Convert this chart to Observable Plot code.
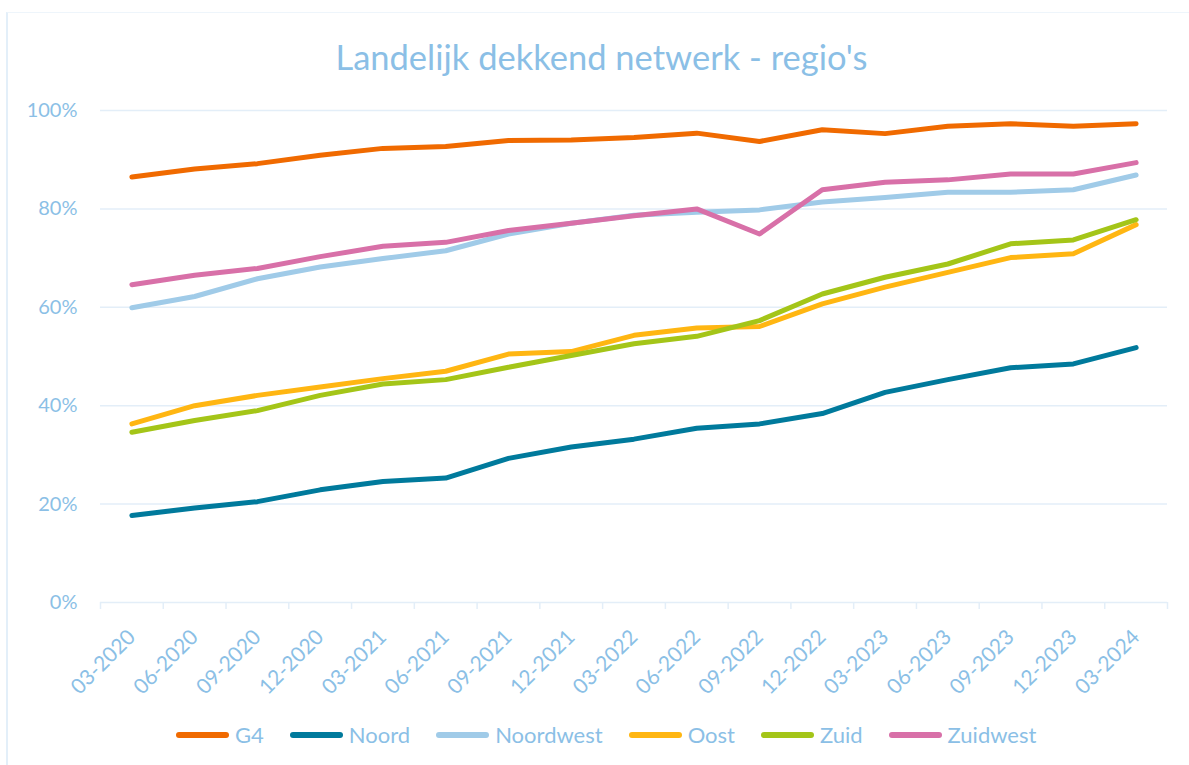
<!DOCTYPE html>
<html>
<head>
<meta charset="utf-8">
<script src="https://cdn.jsdelivr.net/npm/d3@7"></script>
<script src="https://cdn.jsdelivr.net/npm/@observablehq/plot@0.6"></script>
<style>
  html, body { margin: 0; padding: 0; background: #fff; }
  body { width: 1189px; height: 765px; position: relative; overflow: hidden; font-family: Lato, "Open Sans", sans-serif; }
  #frame { position: absolute; left: 6px; top: 12px; width: 1300px; height: 900px; border-left: 2px solid #e3eff9; border-top: 1px solid #eef5fb; }
  #title { position: absolute; left: 7px; width: 1189px; top: 37px; text-align: center; font-size: 34.5px; line-height: 40px; color: #8bbfe6; }
  #chart { position: absolute; left: 0; top: 90px; }
  #legend { position: absolute; top: 721px; left: 176px; display: flex; align-items: center; font-size: 22px; color: #8bbfe6; line-height: 28px; }
  .item { display: flex; align-items: center; margin-right: 26px; }
  .sw { width: 53px; height: 6px; border-radius: 3px; margin-right: 6px; }
</style>
</head>
<body>
<div id="frame"></div>
<div id="title">Landelijk dekkend netwerk - regio's</div>
<div id="chart"></div>
<div id="legend"></div>
<script>
const dates = ["03-2020","06-2020","09-2020","12-2020","03-2021","06-2021","09-2021","12-2021","03-2022","06-2022","09-2022","12-2022","03-2023","06-2023","09-2023","12-2023","03-2024"];
const seriesNames = ["G4","Noord","Noordwest","Oost","Zuid","Zuidwest"];
const seriesColors = ["#f06a00","#007a9c","#a0cbe8","#ffb612","#a4c518","#d870a8"];
const g4 =        [86.5, 88.1, 89.2, 90.9, 92.3, 92.7, 93.9, 94.0, 94.5, 95.4, 93.7, 96.1, 95.3, 96.8, 97.3, 96.8, 97.3];
const noord =     [17.7, 19.2, 20.5, 22.9, 24.6, 25.3, 29.3, 31.6, 33.2, 35.4, 36.3, 38.4, 42.7, 45.3, 47.7, 48.5, 51.8];
const noordwest = [59.9, 62.2, 65.8, 68.2, 69.9, 71.5, 74.9, 77.1, 78.7, 79.3, 79.8, 81.4, 82.3, 83.4, 83.4, 83.9, 86.9];
const oost =      [36.3, 40.0, 42.1, 43.8, 45.5, 47.0, 50.5, 51.0, 54.3, 55.8, 56.1, 60.7, 64.1, 67.1, 70.1, 70.9, 76.8];
const zuid =      [34.6, 37.0, 39.0, 42.1, 44.4, 45.3, 47.8, 50.2, 52.6, 54.1, 57.3, 62.7, 66.1, 68.8, 72.9, 73.7, 77.8];
const zuidwest =  [64.6, 66.5, 67.9, 70.3, 72.4, 73.2, 75.6, 77.1, 78.6, 80.0, 74.9, 83.9, 85.4, 85.9, 87.1, 87.1, 89.4];
const yTicks = [0, 20, 40, 60, 80, 100];

const allValues = [g4, noord, noordwest, oost, zuid, zuidwest];
const rows = [];
seriesNames.forEach((name, s) => {
  allValues[s].forEach((v, i) => rows.push({series: name, i, value: v}));
});
const idx = d3.range(dates.length);
const boundaries = d3.range(dates.length + 1).map(k => k - 0.5);

const textColor = "#8bbfe6";
const gridColor = "#e3eef8";

const chart = Plot.plot({
  width: 1189,
  height: 612,
  marginTop: 20,
  marginBottom: 100,
  marginLeft: 100,
  marginRight: 22,
  style: {fontFamily: "Lato, 'Open Sans', sans-serif", color: textColor, background: "transparent"},
  x: {type: "linear", domain: [-0.5, dates.length - 0.5]},
  y: {domain: [0, 100]},
  color: {domain: seriesNames, range: seriesColors},
  marks: [
    Plot.ruleY(yTicks, {stroke: gridColor, strokeWidth: 1.5}),
    Plot.axisX(boundaries, {tickSize: 7, tickFormat: () => "", stroke: gridColor, strokeWidth: 1.5, label: null}),
    Plot.axisX(idx, {tickSize: 0, tickPadding: 31, tickRotate: -45, tickFormat: i => dates[i], fontSize: 21, label: null, fill: textColor}),
    Plot.axisY(yTicks, {tickSize: 0, tickPadding: 23, tickFormat: d => d + "%", fontSize: 20, label: null, fill: textColor}),
    Plot.line(rows, {x: "i", y: "value", z: "series", stroke: "series", strokeWidth: 5, strokeLinecap: "round", strokeLinejoin: "round"})
  ]
});
document.getElementById("chart").appendChild(chart);

const legend = document.getElementById("legend");
seriesNames.forEach((name, s) => {
  const item = document.createElement("div");
  item.className = "item";
  const sw = document.createElement("div");
  sw.className = "sw";
  sw.style.background = seriesColors[s];
  const t = document.createElement("span");
  t.textContent = name;
  item.appendChild(sw);
  item.appendChild(t);
  legend.appendChild(item);
});
</script>
</body>
</html>
